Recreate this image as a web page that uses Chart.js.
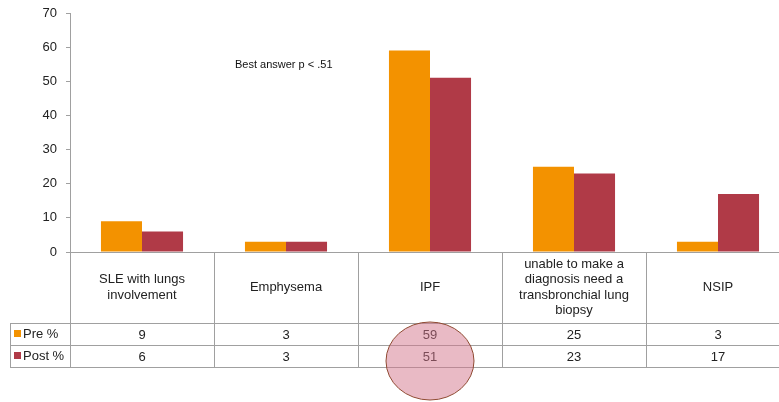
<!DOCTYPE html>
<html>
<head>
<meta charset="utf-8">
<script src="https://cdn.jsdelivr.net/npm/chart.js@4.4.0/dist/chart.umd.min.js"></script>
<style>
  html, body { margin: 0; padding: 0; background: #fff; overflow: hidden; }
  #wrap { width: 800px; height: 402px; }
</style>
</head>
<body>
<div id="wrap"><canvas id="myChart" width="800" height="402"></canvas></div>
<script>
var categories = ['SLE with lungs involvement', 'Emphysema', 'IPF',
  'unable to make a diagnosis need a transbronchial lung biopsy', 'NSIP'];
var preValues = [9, 3, 59, 25, 3];
var postValues = [6, 3, 51, 23, 17];
var seriesNames = ['Pre %', 'Post %'];
var seriesColors = ['#F39200', '#B03A47'];
var note = 'Best answer p < .51';

var FONT = '"Liberation Sans", Arial, sans-serif';
var LINE = '#a0a0a0';

// split a label into lines that fit the column
function wrap(ctx, text, maxW) {
  var words = text.split(' '), lines = [], cur = '';
  words.forEach(function (w) {
    var t = cur ? cur + ' ' + w : w;
    if (ctx.measureText(t).width > maxW && cur) { lines.push(cur); cur = w; }
    else cur = t;
  });
  if (cur) lines.push(cur);
  return lines;
}

// data table under the bars, plus the note and the highlight ring
var tablePlugin = {
  id: 'dataTable',
  afterDraw: function (chart) {
    var ctx = chart.ctx, x = chart.scales.x, area = chart.chartArea;
    var n = categories.length;
    var step = (area.right - area.left) / n;
    var top = Math.round(area.bottom), headBottom = top + 71, row1 = headBottom + 22, row2 = row1 + 22;
    var tableLeft = 10;

    ctx.save();
    ctx.strokeStyle = LINE;
    ctx.lineWidth = 1;
    ctx.beginPath();
    // horizontal rules
    ctx.moveTo(area.left, top + 0.5); ctx.lineTo(area.right, top + 0.5);
    [headBottom, row1, row2].forEach(function (y) {
      ctx.moveTo(tableLeft, y + 0.5); ctx.lineTo(area.right, y + 0.5);
    });
    // vertical rules
    ctx.moveTo(tableLeft + 0.5, headBottom); ctx.lineTo(tableLeft + 0.5, row2);
    for (var i = 0; i <= n; i++) {
      var vx = Math.round(area.left + i * step) + 0.5;
      ctx.moveTo(vx, top); ctx.lineTo(vx, row2);
    }
    ctx.stroke();

    ctx.fillStyle = '#222';
    ctx.font = '13px ' + FONT;
    ctx.textAlign = 'center';
    ctx.textBaseline = 'middle';
    categories.forEach(function (c, i) {
      var cx = x.getPixelForValue(i);
      var lines = wrap(ctx, c, 130);
      var lh = 15.5;
      var y0 = (top + headBottom) / 2 - (lines.length - 1) * lh / 2;
      lines.forEach(function (l, k) { ctx.fillText(l, cx, y0 + k * lh); });
      ctx.fillText(String(preValues[i]), cx, (headBottom + row1) / 2 + 1);
      ctx.fillText(String(postValues[i]), cx, (row1 + row2) / 2 + 1);
    });

    // series keys
    ctx.textAlign = 'left';
    [[headBottom, row1], [row1, row2]].forEach(function (r, k) {
      var my = (r[0] + r[1]) / 2;
      ctx.fillStyle = seriesColors[k];
      ctx.fillRect(14, my - 4, 7, 7);
      ctx.fillStyle = '#222';
      ctx.fillText(seriesNames[k], 23, my);
    });

    // note
    ctx.font = '11px ' + FONT;
    ctx.fillStyle = '#111';
    ctx.fillText(note, 235, 65);

    // highlight ring around the IPF values
    var hx = x.getPixelForValue(2);
    ctx.beginPath();
    ctx.ellipse(hx, 361, 44, 39, 0, 0, Math.PI * 2);
    ctx.fillStyle = 'rgba(212, 118, 140, 0.5)';
    ctx.fill();
    ctx.strokeStyle = '#8f4a32';
    ctx.lineWidth = 1;
    ctx.stroke();
    ctx.restore();
  }
};

var ctx = document.getElementById('myChart').getContext('2d');
var chart = new Chart(ctx, {
  type: 'bar',
  data: {
    labels: categories,
    datasets: [{
      label: seriesNames[0],
      data: preValues,
      backgroundColor: seriesColors[0],
      categoryPercentage: 0.57,
      barPercentage: 1.0
    }, {
      label: seriesNames[1],
      data: postValues,
      backgroundColor: seriesColors[1],
      categoryPercentage: 0.57,
      barPercentage: 1.0
    }]
  },
  options: {
    responsive: false,
    animation: false,
    layout: { padding: { top: 13, bottom: 150, left: 0, right: 10 } },
    plugins: { legend: { display: false }, tooltip: { enabled: false } },
    scales: {
      x: { display: false },
      y: {
        min: 0, max: 70,
        afterFit: function (s) { s.width = 70; s.paddingTop = 0; s.paddingBottom = 0; },
        border: { display: true, color: LINE },
        grid: { drawOnChartArea: false, drawTicks: true, tickLength: 4, color: LINE },
        ticks: { stepSize: 10, padding: 9, color: '#222', font: { family: FONT, size: 13 } }
      }
    }
  },
  plugins: [tablePlugin]
});
</script>
</body>
</html>
